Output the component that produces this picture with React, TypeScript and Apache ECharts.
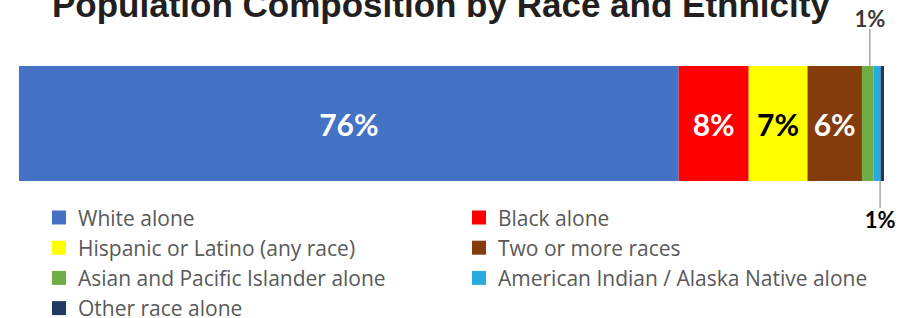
import React, { useEffect, useRef } from "react";
import * as echarts from "echarts";

const categories = [
  "White alone",
  "Black alone",
  "Hispanic or Latino (any race)",
  "Two or more races",
  "Asian and Pacific Islander alone",
  "American Indian / Alaska Native alone",
  "Other race alone",
];
const values = [76.3, 8.1, 6.8, 6.3, 1.35, 0.8, 0.4];
const labels = ["76%", "8%", "7%", "6%", "1%", "1%", ""];
const colors = ["#4472C4", "#FF0000", "#FFFF00", "#843C0C", "#70AD47", "#29ABE2", "#1F3864"];
const labelColors = ["#fff", "#fff", "#000", "#fff", "#3A3A3A", "#000", "#fff"];
const leftLegend = [categories[0], categories[2], categories[4], categories[6]];
const rightLegend = [categories[1], categories[3], categories[5]];

export default function App() {
  const ref = useRef<HTMLDivElement>(null);
  useEffect(() => {
    if (!ref.current) return;
    const chart = echarts.init(ref.current, null, { renderer: "svg" });
    const total = values.reduce((a, b) => a + b, 0);
    const legendBase = {
      orient: "vertical",
      padding: 0,
      height: 200,
      itemWidth: 14,
      itemHeight: 14,
      itemGap: 9.2,
      icon: "rect",
      selectedMode: false,
      textStyle: {
        fontFamily: "Open Sans",
        fontSize: 21,
        lineHeight: 20,
        color: "#595959",
        padding: [0, 0, 0, 7],
      },
    };
    const series = categories.map((name, i) => {
      const s: any = {
        name,
        type: "bar",
        stack: "total",
        barWidth: "100%",
        itemStyle: { color: colors[i] },
        data: [values[i]],
        label: {
          show: labels[i] !== "",
          position: "inside",
          formatter: () => labels[i],
          color: labelColors[i],
          fontFamily: "Lato",
          fontWeight: "bold",
          fontSize: 30,
        },
      };
      if (i === 4) {
        s.label.position = "top";
        s.label.fontSize = 22;
        s.labelLayout = { dx: 2, dy: -32 };
        s.labelLine = { show: true, lineStyle: { color: "#A6A6A6", width: 1.5 } };
      }
      if (i === 5) {
        s.label.position = "bottom";
        s.label.fontSize = 22;
        s.labelLayout = { dx: 3, dy: 22 };
        s.labelLine = { show: true, lineStyle: { color: "#A6A6A6", width: 1.5 } };
      }
      return s;
    });
    chart.setOption({
      animation: false,
      title: {
        text: "Population Composition by Race and Ethnicity",
        left: 52,
        top: -13,
        padding: 0,
        textStyle: {
          fontFamily: "Liberation Sans",
          fontWeight: "bold",
          fontSize: 35,
          color: "#231F20",
        },
      },
      legend: [
        { ...legendBase, data: leftLegend, left: 52, top: 207 },
        { ...legendBase, data: rightLegend, left: 472, top: 207 },
      ],
      grid: { left: 19, right: 27, top: 66, height: 115, containLabel: false },
      xAxis: { type: "value", min: 0, max: total, show: false },
      yAxis: { type: "category", data: ["Population"], show: false },
      series,
    });
    return () => chart.dispose();
  }, []);
  return <div ref={ref} style={{ width: 911, height: 318, position: "absolute", left: 0, top: 0 }} />;
}
